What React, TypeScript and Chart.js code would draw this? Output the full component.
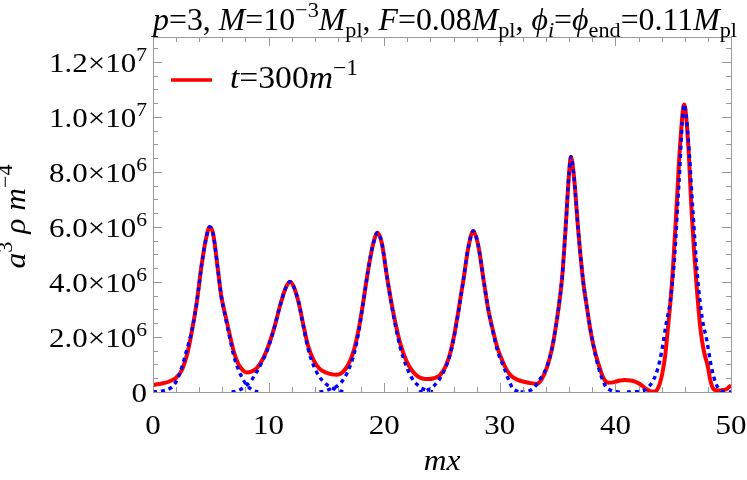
import React, { useEffect, useRef } from 'react';
import { Chart, registerables } from 'chart.js';

Chart.register(...registerables);

// ---------- data (y values in units of 1e6) ----------
const X_MIN = 0;
const X_MAX = 50;
const Y_MIN = 0;
const Y_MAX = 12.9;

const xMajorTicks = [0, 10, 20, 30, 40, 50];
const xTickLabels = ['0', '10', '20', '30', '40', '50'];
const xMinorStep = 2;

const yMajorTicks = [0, 2, 4, 6, 8, 10, 12];
const yTickMantissa = ['0', '2.0', '4.0', '6.0', '8.0', '1.0', '1.2'];
const yTickExponent = ['', '6', '6', '6', '6', '7', '7'];
const yMinorStep = 0.5;

const legendLabel = 't=300m^-1';

// red solid curve: t = 300 m^-1
const redX = [
  0, 0.5, 1.0, 1.5, 2.0, 2.5, 3.0, 3.4, 3.8, 4.2, 4.6, 4.9, 5.2, 5.6, 5.9, 6.2, 6.6, 7.0, 7.4, 7.8,
  8.1, 8.5, 9.0, 9.5, 10.0, 10.5, 11.0, 11.5, 11.85, 12.2, 12.6, 13.0, 13.4, 13.9, 14.4, 15.0, 15.5, 15.9, 16.4, 16.9,
  17.4, 17.8, 18.2, 18.6, 19.0, 19.42, 19.8, 20.2, 20.6, 21.0, 21.4, 21.9, 22.4, 22.9, 23.4, 23.8, 24.3, 24.8, 25.3, 25.7,
  26.0, 26.4, 26.85, 27.3, 27.7, 28.1, 28.6, 29.0, 29.4, 29.8, 30.2, 30.6, 31.0, 31.5, 32.0, 32.6, 33.2, 33.6, 34.1, 34.5,
  34.8, 35.1, 35.4, 35.7, 36.0, 36.15, 36.4, 36.8, 37.2, 37.6, 37.9, 38.3, 38.7, 39.0, 39.4, 39.9, 40.4, 40.8, 41.3, 41.7,
  42.0, 42.4, 42.7, 43.0, 43.35, 43.7, 44.0, 44.3, 44.5, 44.9, 45.3, 45.6, 45.95, 46.3, 46.6, 47.0, 47.4, 47.7, 48.0, 48.2,
  48.45, 48.9, 49.3, 49.6, 50.0,
];
const redY = [
  0.25, 0.29, 0.33, 0.40, 0.52, 0.80, 1.45, 2.30, 3.30, 4.60, 5.60, 6.00, 5.75, 4.50, 3.50, 2.90, 2.15, 1.45, 1.00, 0.78,
  0.71, 0.74, 0.88, 1.20, 1.70, 2.35, 3.15, 3.80, 4.01, 3.80, 3.25, 2.45, 1.70, 1.15, 0.85, 0.70, 0.64, 0.63, 0.72, 1.00,
  1.55, 2.30, 3.30, 4.40, 5.30, 5.79, 5.40, 4.30, 3.30, 2.45, 1.75, 1.15, 0.78, 0.57, 0.48, 0.47, 0.50, 0.60, 0.92, 1.40,
  1.95, 2.90, 4.07, 5.30, 5.85, 5.40, 4.07, 3.00, 2.25, 1.60, 1.16, 0.80, 0.58, 0.45, 0.38, 0.33, 0.30, 0.45, 0.92, 1.55,
  2.25, 3.10, 4.20, 6.00, 8.00, 8.55, 7.90, 5.80, 4.07, 2.90, 2.10, 1.35, 0.80, 0.48, 0.34, 0.36, 0.42, 0.44, 0.42, 0.38,
  0.32, 0.20, 0.10, 0.03, 0.01, 0.15, 0.56, 1.30, 2.13, 4.00, 6.80, 9.00, 10.45, 9.00, 6.50, 4.00, 2.13, 1.40, 0.92, 0.45,
  0.13, 0.05, 0.07, 0.10, 0.25,
];

// blue dotted curve, drawn as separate lumps [x, y]
const blueLump1 = [
  [0, 0], [0.7, 0.03], [1.5, 0.14], [2.0, 0.38], [2.4, 0.78], [2.9, 1.5], [3.4, 2.3], [3.8, 3.3], [4.2, 4.6], [4.6, 5.6],
  [4.9, 6.0], [5.2, 5.75], [5.6, 4.5], [5.9, 3.5], [6.2, 2.85], [6.6, 2.05], [7.0, 1.3], [7.4, 0.8], [7.8, 0.45], [8.1, 0.25],
  [8.5, 0.1], [8.8, 0.03], [9.1, 0],
];
const blueLump2 = [
  [6.8, 0], [7.2, 0.03], [7.6, 0.1], [8.1, 0.25], [8.5, 0.42], [9.0, 0.75], [9.5, 1.15], [10.0, 1.65], [10.5, 2.35], [11.0, 3.15],
  [11.5, 3.8], [11.85, 4.01], [12.2, 3.8], [12.6, 3.25], [13.0, 2.4], [13.4, 1.6], [13.9, 0.95], [14.4, 0.55], [15.0, 0.28], [15.6, 0.13],
  [16.1, 0.04], [16.6, 0],
];
const blueLump3 = [
  [14.4, 0], [14.9, 0.04], [15.4, 0.12], [15.8, 0.18], [16.3, 0.36], [16.8, 0.7], [17.4, 1.4], [17.8, 2.2], [18.2, 3.3], [18.6, 4.4],
  [19.0, 5.3], [19.42, 5.79], [19.8, 5.4], [20.2, 4.3], [20.6, 3.25], [21.0, 2.35], [21.4, 1.6], [21.9, 0.95], [22.4, 0.5], [22.9, 0.25],
  [23.4, 0.11], [23.8, 0.04], [24.3, 0],
];
const blueLump4 = [
  [23.0, 0], [23.4, 0.03], [23.8, 0.08], [24.3, 0.22], [24.8, 0.48], [25.3, 0.88], [25.7, 1.35], [26.0, 1.9], [26.4, 2.85], [26.85, 4.07],
  [27.3, 5.3], [27.7, 5.85], [28.1, 5.4], [28.6, 4.07], [29.0, 3.0], [29.4, 2.2], [29.8, 1.5], [30.4, 0.85], [30.8, 0.4], [31.1, 0.15],
  [31.5, 0.03], [31.9, 0],
];
const blueLump5 = [
  [31.8, 0], [32.4, 0.02], [33.0, 0.18], [33.5, 0.48], [34.1, 0.95], [34.5, 1.55], [34.8, 2.25], [35.1, 3.1], [35.4, 4.2], [35.7, 6.0],
  [36.0, 8.0], [36.15, 8.55], [36.4, 7.9], [36.8, 5.8], [37.2, 4.07], [37.6, 2.9], [37.9, 2.13], [38.5, 0.95], [39.1, 0.25], [39.6, 0.06],
  [40.1, 0.01], [40.6, 0],
];
const blueLump6 = [
  [41.0, 0], [41.8, 0.01], [42.5, 0.06], [42.9, 0.2], [43.3, 0.44], [43.7, 0.9], [44.0, 1.47], [44.4, 2.5], [44.75, 3.3], [45.1, 4.8],
  [45.5, 7.6], [45.95, 10.45], [46.3, 9.2], [46.7, 6.6], [47.1, 4.2], [47.5, 2.7], [47.9, 1.89], [48.3, 0.92], [48.7, 0.3], [49.15, 0.05],
  [49.5, 0.01], [50, 0],
];
const blueLumps = [blueLump1, blueLump2, blueLump3, blueLump4, blueLump5, blueLump6];

// ---------- styling ----------
const FONT = '"Liberation Serif", "Times New Roman", Times, serif';
const RED = '#ff0000';
const BLUE = '#0000ff';
const FRAME = '#999999';

type Seg = { t: string; it?: boolean; sup?: boolean; sub?: boolean };

function segFont(s: Seg, size: number) {
  const fs = s.sup || s.sub ? size * 0.7 : size;
  return `${s.it ? 'italic ' : ''}normal 400 ${fs.toFixed(1)}px ${FONT}`;
}
function measureRich(ctx: CanvasRenderingContext2D, segs: Seg[], size: number) {
  let w = 0;
  for (const s of segs) {
    ctx.font = segFont(s, size);
    w += ctx.measureText(s.t).width;
  }
  return w;
}
function drawRich(
  ctx: CanvasRenderingContext2D,
  segs: Seg[],
  x: number,
  y: number,
  size: number,
  align: 'left' | 'center' | 'right',
  sx = 1,
  rot = 0,
) {
  const total = measureRich(ctx, segs, size);
  ctx.save();
  ctx.translate(x, y);
  if (rot) ctx.rotate(rot);
  ctx.scale(sx, 1);
  let cx = align === 'left' ? 0 : align === 'center' ? -total / 2 : -total;
  ctx.fillStyle = '#000';
  ctx.textBaseline = 'alphabetic';
  ctx.textAlign = 'left';
  for (const s of segs) {
    ctx.font = segFont(s, size);
    const dy = s.sup ? -size * 0.42 : s.sub ? size * 0.22 : 0;
    ctx.fillText(s.t, cx, dy);
    cx += ctx.measureText(s.t).width;
  }
  ctx.restore();
}

const titleSegs: Seg[] = [
  { t: 'p', it: true }, { t: '=3, ' }, { t: 'M', it: true }, { t: '=10' }, { t: '\u22123', sup: true },
  { t: 'M', it: true }, { t: 'pl', sub: true }, { t: ', ' }, { t: 'F', it: true }, { t: '=0.08' },
  { t: 'M', it: true }, { t: 'pl', sub: true }, { t: ', ' }, { t: '\u03d5', it: true }, { t: 'i', it: true, sub: true },
  { t: '=' }, { t: '\u03d5', it: true }, { t: 'end', sub: true }, { t: '=0.11' }, { t: 'M', it: true }, { t: 'pl', sub: true },
];
const legendSegs: Seg[] = [
  { t: 't', it: true }, { t: '=300' }, { t: 'm', it: true }, { t: '\u22121', sup: true },
];
const yTitleSegs: Seg[] = [
  { t: 'a', it: true }, { t: '3', sup: true }, { t: ' ' }, { t: '\u03c1', it: true }, { t: ' ' }, { t: 'm', it: true }, { t: '\u22124', sup: true },
];
const xTitleSegs: Seg[] = [{ t: 'mx', it: true }];

const framePlugin = {
  id: 'mmaFrame',
  afterDraw(chart: any) {
    const ctx: CanvasRenderingContext2D = chart.ctx;
    const { left, right, top, bottom } = chart.chartArea;
    const xs = chart.scales.x;
    const ys = chart.scales.y;
    ctx.save();
    // frame
    ctx.strokeStyle = FRAME;
    ctx.lineWidth = 1;
    ctx.strokeRect(Math.round(left) + 0.5, Math.round(top) + 0.5, Math.round(right - left), Math.round(bottom - top));
    // ticks
    ctx.beginPath();
    for (let v = X_MIN; v <= X_MAX + 1e-9; v += xMinorStep) {
      const major = xMajorTicks.some((m) => Math.abs(m - v) < 1e-9);
      const len = major ? 9 : 5;
      const px = Math.round(xs.getPixelForValue(v)) + 0.5;
      ctx.moveTo(px, bottom);
      ctx.lineTo(px, bottom - len);
      ctx.moveTo(px, top);
      ctx.lineTo(px, top + len);
    }
    for (let v = Y_MIN; v <= Y_MAX + 1e-9; v += yMinorStep) {
      const major = yMajorTicks.some((m) => Math.abs(m - v) < 1e-9);
      const len = major ? 9 : 5;
      const py = Math.round(ys.getPixelForValue(v)) + 0.5;
      ctx.moveTo(left, py);
      ctx.lineTo(left + len, py);
      ctx.moveTo(right, py);
      ctx.lineTo(right - len, py);
    }
    ctx.stroke();

    // y tick labels
    const tickSize = 26.5;
    const refSegs: Seg[] = [{ t: '1.2\u00d710' }, { t: '7', sup: true }];
    const tickSx = 98 / measureRich(ctx, refSegs, tickSize);
    yMajorTicks.forEach((v, i) => {
      const py = ys.getPixelForValue(v);
      const segs: Seg[] = yTickExponent[i]
        ? [{ t: yTickMantissa[i] + '\u00d710' }, { t: yTickExponent[i], sup: true }]
        : [{ t: yTickMantissa[i] }];
      drawRich(ctx, segs, left - 6, py + 10, tickSize, 'right', tickSx);
    });
    // x tick labels
    xMajorTicks.forEach((v, i) => {
      const px = xs.getPixelForValue(v);
      drawRich(ctx, [{ t: xTickLabels[i] }], px, bottom + 42, tickSize, 'center', tickSx);
    });

    // title
    const titleSize = 30.5;
    const titleSx = 584 / measureRich(ctx, titleSegs, titleSize);
    drawRich(ctx, titleSegs, (left + right) / 2 + 3, 30, titleSize, 'center', titleSx);

    // axis titles
    drawRich(ctx, xTitleSegs, (left + right) / 2, 470, 30, 'center', 1.05);
    drawRich(ctx, yTitleSegs, 25, (top + bottom) / 2 + 2, 30, 'center', 1.05, -Math.PI / 2);

    // legend
    ctx.strokeStyle = RED;
    ctx.lineWidth = 3.5;
    ctx.beginPath();
    ctx.moveTo(171, 80);
    ctx.lineTo(212, 80);
    ctx.stroke();
    const legSize = 32;
    const legSx = 128 / measureRich(ctx, legendSegs, legSize);
    drawRich(ctx, legendSegs, 230, 88, legSize, 'left', legSx);
    ctx.restore();
  },
};

export default function App() {
  const ref = useRef<HTMLCanvasElement | null>(null);
  useEffect(() => {
    const prevMargin = document.body.style.margin;
    document.body.style.margin = '0';
    const canvas = ref.current!;
    const blueSets = blueLumps.map((lump, i) => ({
      label: `blue${i + 1}`,
      data: lump.map(([x, y]) => ({ x, y })),
      borderColor: BLUE,
      borderWidth: 3.4,
      borderDash: [4, 4],
      borderCapStyle: 'butt' as const,
      pointRadius: 0,
      cubicInterpolationMode: 'monotone' as const,
      fill: false,
      order: 1,
    }));
    const chart = new Chart(canvas, {
      type: 'line',
      data: {
        datasets: [
          ...blueSets,
          {
            label: legendLabel,
            data: redX.map((x, i) => ({ x, y: redY[i] })),
            borderColor: RED,
            borderWidth: 4,
            pointRadius: 0,
            cubicInterpolationMode: 'monotone',
            fill: false,
            order: 5,
          },
        ],
      },
      options: {
        responsive: false,
        animation: false,
        layout: { padding: { left: 153, right: 16, top: 37, bottom: 88 } },
        plugins: { legend: { display: false }, tooltip: { enabled: false }, title: { display: false } },
        scales: {
          x: { type: 'linear', min: X_MIN, max: X_MAX, display: false },
          y: { type: 'linear', min: Y_MIN, max: Y_MAX, display: false },
        },
      },
      plugins: [framePlugin],
    });
    let alive = true;
    const fams = ['normal 400 20px "Liberation Serif"', 'italic 400 20px "Liberation Serif"'];
    if ((document as any).fonts && (document as any).fonts.load) {
      Promise.all(fams.map((f) => (document as any).fonts.load(f, 'p=3M0.\u00d7\u03d5'))).then(() => {
        if (alive) chart.draw();
      }).catch(() => {});
    }
    return () => {
      alive = false;
      chart.destroy();
      document.body.style.margin = prevMargin;
    };
  }, []);
  return (
    <div style={{ position: 'fixed', left: 0, top: 0, width: 747, height: 480, background: '#fff' }}>
      <canvas ref={ref} width={747} height={480} style={{ width: 747, height: 480, display: 'block' }} />
    </div>
  );
}
